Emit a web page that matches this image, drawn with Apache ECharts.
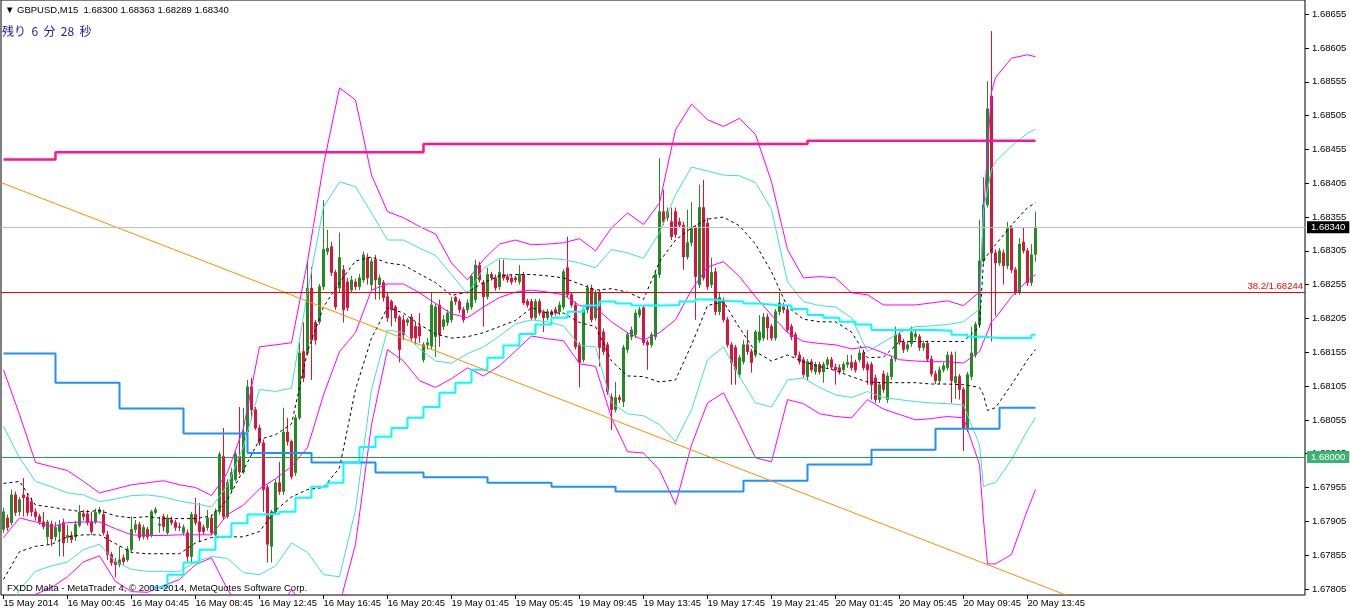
<!DOCTYPE html>
<html><head><meta charset="utf-8">
<script src="https://cdn.jsdelivr.net/npm/echarts@6/dist/echarts.min.js"></script>
<style>html,body{margin:0;padding:0;background:#fff}#c{width:1350px;height:613px}</style>
</head><body><div id="c"></div>
<script>
// ---- time axis (bar index -> label) ----
const tickBars = [0,16,32,48,64,80,96,112,128,144,160,176,192,208,224,240,256];
const tickLabels = ['15 May 2014','16 May 00:45','16 May 04:45','16 May 08:45','16 May 12:45','16 May 16:45','16 May 20:45','19 May 01:45','19 May 05:45','19 May 09:45','19 May 13:45','19 May 17:45','19 May 21:45','20 May 01:45','20 May 05:45','20 May 09:45','20 May 13:45'];
const priceTicks = [1.67805,1.67855,1.67905,1.67955,1.68005,1.68055,1.68105,1.68155,1.68205,1.68255,1.68305,1.68355,1.68405,1.68455,1.68505,1.68555,1.68605,1.68655];

// ---- candles (M15) ----
const opens = [1.67893,1.67910,1.67903,1.67944,1.67919,1.67944,1.67941,1.67934,1.67919,1.67912,
1.67904,1.67882,1.67901,1.67882,1.67890,1.67903,1.67881,1.67884,1.67882,1.67899,
1.67916,1.67916,1.67904,1.67904,1.67918,1.67915,1.67885,1.67856,1.67845,1.67841,
1.67851,1.67848,1.67863,1.67893,1.67900,1.67882,1.67893,1.67885,1.67918,1.67899,
1.67912,1.67888,1.67907,1.67903,1.67897,1.67888,1.67888,1.67853,1.67915,1.67904,
1.67896,1.67896,1.67910,1.67885,1.67919,1.68001,1.67912,1.67952,1.67967,1.68001,
1.67978,1.68037,1.68104,1.68070,1.68043,1.68021,1.67955,1.67868,1.67919,1.67962,
1.67949,1.68037,1.68023,1.67977,1.68058,1.68156,1.68154,1.68250,1.68199,1.68200,
1.68252,1.68304,1.68311,1.68273,1.68250,1.68277,1.68259,1.68247,1.68259,1.68252,
1.68262,1.68295,1.68255,1.68292,1.68255,1.68258,1.68237,1.68230,1.68222,1.68207,
1.68203,1.68199,1.68207,1.68193,1.68193,1.68144,1.68166,1.68164,1.68178,1.68225,
1.68193,1.68199,1.68203,1.68236,1.68230,1.68218,1.68218,1.68222,1.68233,1.68284,
1.68258,1.68237,1.68270,1.68265,1.68252,1.68270,1.68267,1.68265,1.68265,1.68259,
1.68270,1.68230,1.68230,1.68206,1.68230,1.68215,1.68206,1.68215,1.68218,1.68215,
1.68222,1.68280,1.68240,1.68225,1.68166,1.68144,1.68218,1.68250,1.68206,1.68243,
1.68185,1.68166,1.68089,1.68070,1.68088,1.68082,1.68159,1.68178,1.68181,1.68210,
1.68221,1.68170,1.68166,1.68178,1.68270,1.68363,1.68354,1.68348,1.68363,1.68348,
1.68343,1.68296,1.68317,1.68339,1.68255,1.68369,1.68346,1.68255,1.68274,1.68215,
1.68230,1.68203,1.68166,1.68162,1.68122,1.68141,1.68166,1.68156,1.68151,1.68173,
1.68176,1.68207,1.68193,1.68176,1.68215,1.68222,1.68218,1.68193,1.68181,1.68151,
1.68144,1.68119,1.68141,1.68126,1.68137,1.68126,1.68137,1.68144,1.68133,1.68132,
1.68129,1.68137,1.68140,1.68140,1.68144,1.68154,1.68137,1.68137,1.68117,1.68085,
1.68123,1.68085,1.68119,1.68145,1.68181,1.68170,1.68160,1.68168,1.68178,1.68178,
1.68162,1.68168,1.68145,1.68123,1.68113,1.68129,1.68132,1.68151,1.68110,1.68119,
1.68100,1.68042,1.68119,1.68151,1.68196,1.68290,1.68373,1.68534,1.68302,1.68287,
1.68302,1.68283,1.68338,1.68277,1.68244,1.68318,1.68305,1.68258,1.68300];
const closes = [1.67919,1.67896,1.67944,1.67918,1.67937,1.67940,1.67918,1.67919,1.67912,1.67904,
1.67897,1.67904,1.67879,1.67896,1.67899,1.67873,1.67884,1.67878,1.67900,1.67918,
1.67912,1.67903,1.67890,1.67918,1.67922,1.67888,1.67856,1.67844,1.67841,1.67848,
1.67845,1.67863,1.67893,1.67900,1.67881,1.67896,1.67882,1.67919,1.67922,1.67901,
1.67897,1.67910,1.67903,1.67896,1.67896,1.67896,1.67853,1.67915,1.67903,1.67890,
1.67890,1.67910,1.67888,1.67919,1.68004,1.67912,1.67962,1.67977,1.68004,1.67978,
1.68037,1.68104,1.68070,1.68043,1.68021,1.67952,1.67871,1.67919,1.67962,1.67949,
1.68037,1.68023,1.67971,1.68058,1.68154,1.68117,1.68250,1.68173,1.68173,1.68252,
1.68307,1.68309,1.68273,1.68222,1.68295,1.68218,1.68221,1.68262,1.68252,1.68265,
1.68299,1.68265,1.68289,1.68262,1.68265,1.68236,1.68206,1.68218,1.68206,1.68159,
1.68181,1.68203,1.68176,1.68176,1.68179,1.68166,1.68169,1.68225,1.68222,1.68181,
1.68203,1.68213,1.68230,1.68230,1.68218,1.68203,1.68228,1.68267,1.68284,1.68262,
1.68237,1.68270,1.68265,1.68250,1.68273,1.68265,1.68262,1.68259,1.68262,1.68270,
1.68228,1.68225,1.68206,1.68230,1.68213,1.68206,1.68215,1.68210,1.68213,1.68225,
1.68274,1.68240,1.68225,1.68163,1.68140,1.68218,1.68250,1.68203,1.68243,1.68162,
1.68156,1.68097,1.68070,1.68088,1.68085,1.68162,1.68181,1.68188,1.68213,1.68218,
1.68169,1.68166,1.68181,1.68270,1.68363,1.68348,1.68363,1.68326,1.68329,1.68343,
1.68296,1.68317,1.68339,1.68267,1.68369,1.68265,1.68252,1.68273,1.68215,1.68236,
1.68203,1.68166,1.68140,1.68129,1.68147,1.68166,1.68156,1.68140,1.68185,1.68185,
1.68207,1.68191,1.68176,1.68215,1.68228,1.68218,1.68188,1.68178,1.68151,1.68141,
1.68122,1.68141,1.68129,1.68137,1.68126,1.68137,1.68144,1.68133,1.68129,1.68126,
1.68137,1.68140,1.68132,1.68129,1.68154,1.68132,1.68129,1.68107,1.68085,1.68107,
1.68100,1.68120,1.68145,1.68181,1.68170,1.68159,1.68166,1.68184,1.68182,1.68162,
1.68168,1.68145,1.68123,1.68113,1.68129,1.68135,1.68151,1.68113,1.68119,1.68100,
1.68042,1.68122,1.68154,1.68196,1.68290,1.68373,1.68515,1.68302,1.68287,1.68305,
1.68283,1.68338,1.68277,1.68244,1.68315,1.68305,1.68258,1.68299,1.68340];
const lows = [1.67888,1.67891,1.67899,1.67913,1.67913,1.67912,1.67913,1.67912,1.67906,1.67900,
1.67893,1.67871,1.67868,1.67876,1.67853,1.67853,1.67873,1.67873,1.67876,1.67896,
1.67906,1.67899,1.67885,1.67901,1.67915,1.67884,1.67848,1.67839,1.67822,1.67837,
1.67841,1.67845,1.67860,1.67888,1.67876,1.67878,1.67878,1.67881,1.67915,1.67888,
1.67890,1.67885,1.67899,1.67891,1.67891,1.67884,1.67845,1.67844,1.67899,1.67875,
1.67885,1.67891,1.67884,1.67882,1.67915,1.67907,1.67909,1.67947,1.67964,1.67974,
1.67975,1.68033,1.68055,1.68040,1.68017,1.67919,1.67844,1.67844,1.67915,1.67944,
1.67944,1.68017,1.67967,1.67972,1.68055,1.68111,1.68150,1.68114,1.68166,1.68196,
1.68247,1.68299,1.68268,1.68218,1.68244,1.68199,1.68216,1.68243,1.68247,1.68247,
1.68258,1.68255,1.68247,1.68233,1.68233,1.68230,1.68200,1.68193,1.68200,1.68140,
1.68173,1.68194,1.68170,1.68166,1.68169,1.68140,1.68159,1.68159,1.68148,1.68163,
1.68188,1.68194,1.68199,1.68225,1.68213,1.68199,1.68213,1.68218,1.68228,1.68258,
1.68193,1.68233,1.68261,1.68246,1.68247,1.68261,1.68258,1.68255,1.68258,1.68255,
1.68225,1.68221,1.68202,1.68203,1.68209,1.68185,1.68202,1.68206,1.68209,1.68210,
1.68218,1.68236,1.68221,1.68159,1.68103,1.68140,1.68213,1.68199,1.68202,1.68134,
1.68151,1.68092,1.68040,1.68066,1.68080,1.68074,1.68154,1.68173,1.68176,1.68206,
1.68165,1.68129,1.68162,1.68173,1.68265,1.68343,1.68349,1.68321,1.68324,1.68339,
1.68277,1.68292,1.68312,1.68203,1.68250,1.68261,1.68247,1.68250,1.68210,1.68210,
1.68199,1.68162,1.68107,1.68107,1.68117,1.68137,1.68151,1.68125,1.68147,1.68169,
1.68172,1.68173,1.68172,1.68172,1.68210,1.68213,1.68184,1.68173,1.68147,1.68137,
1.68117,1.68114,1.68125,1.68122,1.68122,1.68110,1.68132,1.68129,1.68107,1.68122,
1.68125,1.68132,1.68128,1.68125,1.68140,1.68128,1.68107,1.68085,1.68080,1.68080,
1.68095,1.68080,1.68114,1.68141,1.68166,1.68154,1.68156,1.68163,1.68173,1.68157,
1.68157,1.68141,1.68119,1.68108,1.68108,1.68125,1.68128,1.68080,1.68086,1.68085,
1.68009,1.68037,1.68114,1.68147,1.68191,1.68286,1.68369,1.68171,1.68209,1.68283,
1.68255,1.68278,1.68272,1.68240,1.68240,1.68301,1.68253,1.68253,1.68289];
const highs = [1.67925,1.67915,1.67952,1.67949,1.67941,1.67969,1.67946,1.67940,1.67924,1.67916,
1.67919,1.67907,1.67906,1.67904,1.67907,1.67909,1.67900,1.67890,1.67906,1.67929,
1.67922,1.67922,1.67919,1.67924,1.67926,1.67922,1.67891,1.67860,1.67851,1.67868,
1.67856,1.67868,1.67912,1.67907,1.67904,1.67900,1.67897,1.67922,1.67926,1.67912,
1.67916,1.67915,1.67912,1.67907,1.67903,1.67900,1.67893,1.67919,1.67940,1.67932,
1.67900,1.67922,1.67915,1.67924,1.68008,1.68043,1.67967,1.67984,1.68008,1.68074,
1.68073,1.68114,1.68117,1.68074,1.68048,1.68026,1.67959,1.67922,1.67967,1.67993,
1.68073,1.68058,1.68026,1.68063,1.68169,1.68199,1.68289,1.68281,1.68203,1.68256,
1.68380,1.68336,1.68318,1.68277,1.68332,1.68284,1.68265,1.68268,1.68264,1.68271,
1.68304,1.68301,1.68295,1.68299,1.68270,1.68262,1.68243,1.68233,1.68225,1.68210,
1.68210,1.68206,1.68212,1.68200,1.68213,1.68170,1.68176,1.68243,1.68228,1.68233,
1.68210,1.68218,1.68237,1.68238,1.68234,1.68222,1.68233,1.68271,1.68292,1.68289,
1.68262,1.68280,1.68274,1.68270,1.68292,1.68292,1.68271,1.68270,1.68268,1.68284,
1.68274,1.68234,1.68234,1.68234,1.68234,1.68218,1.68219,1.68218,1.68222,1.68230,
1.68278,1.68326,1.68244,1.68230,1.68170,1.68224,1.68255,1.68255,1.68247,1.68247,
1.68190,1.68170,1.68094,1.68111,1.68092,1.68166,1.68185,1.68193,1.68218,1.68222,
1.68225,1.68173,1.68185,1.68274,1.68442,1.68395,1.68369,1.68369,1.68369,1.68354,
1.68348,1.68366,1.68377,1.68343,1.68403,1.68410,1.68354,1.68295,1.68280,1.68244,
1.68236,1.68207,1.68170,1.68166,1.68151,1.68173,1.68188,1.68160,1.68188,1.68210,
1.68213,1.68212,1.68197,1.68219,1.68244,1.68228,1.68224,1.68197,1.68185,1.68156,
1.68148,1.68145,1.68145,1.68141,1.68141,1.68141,1.68148,1.68148,1.68138,1.68137,
1.68141,1.68151,1.68151,1.68144,1.68159,1.68159,1.68141,1.68141,1.68122,1.68111,
1.68128,1.68125,1.68150,1.68193,1.68185,1.68175,1.68170,1.68193,1.68187,1.68182,
1.68172,1.68172,1.68150,1.68128,1.68134,1.68140,1.68156,1.68156,1.68156,1.68123,
1.68104,1.68126,1.68193,1.68200,1.68351,1.68414,1.68556,1.68630,1.68307,1.68309,
1.68307,1.68348,1.68342,1.68281,1.68324,1.68340,1.68309,1.68315,1.68363];

// ---- Bollinger-style bands, read every 4 bars ----
const bandBars = [0,4,8,12,16,20,24,28,32,36,40,44,48,52,56,60,64,68,72,76,80,84,88,92,96,100,104,108,112,116,120,124,128,132,136,140,144,148,152,156,160,164,168,172,176,180,184,188,192,196,200,204,208,212,216,220,224,228,232,236,240,244,245,246,247,248,252,256,258];
const bandUpper3 = [1.68129,1.68063,1.67992,1.67986,1.67980,1.67964,1.67947,1.67953,1.67959,1.67962,1.67965,1.67959,1.67955,1.67943,1.67977,1.68043,1.68163,1.68166,1.68169,1.68289,1.68432,1.68546,1.68528,1.68417,1.68363,1.68354,1.68341,1.68330,1.68287,1.68262,1.68292,1.68315,1.68321,1.68314,1.68315,1.68317,1.68323,1.68305,1.68339,1.68361,1.68344,1.68376,1.68484,1.68522,1.68499,1.68489,1.68501,1.68477,1.68407,1.68307,1.68265,1.68267,1.68265,1.68243,1.68240,1.68225,1.68225,1.68225,1.68228,1.68231,1.68224,1.68244,1.68358,1.68454,1.68540,1.68561,1.68590,1.68595,1.68592];
const bandUpper2 = [1.68045,1.67999,1.67964,1.67956,1.67947,1.67944,1.67934,1.67938,1.67943,1.67944,1.67941,1.67935,1.67931,1.67926,1.67958,1.68016,1.68100,1.68097,1.68102,1.68244,1.68370,1.68407,1.68400,1.68361,1.68321,1.68321,1.68309,1.68298,1.68270,1.68241,1.68279,1.68294,1.68292,1.68292,1.68294,1.68292,1.68287,1.68280,1.68307,1.68302,1.68294,1.68332,1.68388,1.68429,1.68423,1.68417,1.68416,1.68406,1.68366,1.68259,1.68230,1.68224,1.68222,1.68206,1.68156,1.68170,1.68184,1.68193,1.68194,1.68196,1.68200,1.68219,1.68366,1.68395,1.68425,1.68437,1.68460,1.68479,1.68485];
const bandUpper1 = [1.67961,1.67964,1.67929,1.67926,1.67922,1.67919,1.67921,1.67913,1.67910,1.67912,1.67909,1.67909,1.67909,1.67913,1.67937,1.67981,1.68026,1.68033,1.68049,1.68156,1.68222,1.68258,1.68290,1.68296,1.68287,1.68284,1.68271,1.68258,1.68239,1.68244,1.68258,1.68268,1.68270,1.68270,1.68268,1.68265,1.68256,1.68247,1.68249,1.68244,1.68233,1.68289,1.68321,1.68339,1.68352,1.68355,1.68342,1.68315,1.68274,1.68222,1.68204,1.68200,1.68200,1.68185,1.68147,1.68148,1.68171,1.68171,1.68171,1.68171,1.68171,1.68193,1.68290,1.68299,1.68307,1.68314,1.68343,1.68369,1.68376];
const bandMid = [1.67881,1.67910,1.67904,1.67897,1.67903,1.67904,1.67904,1.67894,1.67885,1.67884,1.67884,1.67885,1.67885,1.67885,1.67915,1.67929,1.67953,1.67968,1.67986,1.68014,1.68092,1.68156,1.68184,1.68247,1.68256,1.68256,1.68243,1.68227,1.68212,1.68206,1.68222,1.68236,1.68244,1.68247,1.68244,1.68240,1.68224,1.68221,1.68200,1.68184,1.68173,1.68184,1.68203,1.68247,1.68281,1.68289,1.68267,1.68237,1.68210,1.68184,1.68171,1.68168,1.68166,1.68160,1.68163,1.68154,1.68144,1.68142,1.68141,1.68141,1.68139,1.68156,1.68171,1.68185,1.68200,1.68206,1.68237,1.68261,1.68270];
const bandLower1 = [1.67819,1.67860,1.67868,1.67871,1.67882,1.67885,1.67885,1.67872,1.67859,1.67857,1.67857,1.67857,1.67873,1.67881,1.67882,1.67882,1.67890,1.67921,1.67941,1.67952,1.67955,1.67984,1.68100,1.68176,1.68221,1.68213,1.68196,1.68182,1.68176,1.68178,1.68184,1.68193,1.68202,1.68221,1.68213,1.68213,1.68199,1.68193,1.68142,1.68120,1.68119,1.68111,1.68114,1.68166,1.68224,1.68230,1.68191,1.68156,1.68142,1.68151,1.68141,1.68134,1.68128,1.68119,1.68111,1.68110,1.68110,1.68110,1.68108,1.68108,1.68107,1.68103,1.68092,1.68069,1.68071,1.68073,1.68107,1.68144,1.68159];
const bandLower2 = [1.67752,1.67804,1.67831,1.67839,1.67845,1.67863,1.67871,1.67845,1.67834,1.67831,1.67831,1.67831,1.67845,1.67853,1.67850,1.67829,1.67826,1.67839,1.67873,1.67859,1.67826,1.67823,1.67922,1.68100,1.68188,1.68184,1.68160,1.68142,1.68139,1.68153,1.68163,1.68179,1.68197,1.68203,1.68200,1.68194,1.68165,1.68163,1.68080,1.68064,1.68061,1.68048,1.68023,1.68070,1.68144,1.68163,1.68119,1.68080,1.68074,1.68114,1.68117,1.68103,1.68092,1.68088,1.68097,1.68088,1.68085,1.68082,1.68080,1.68079,1.68077,1.68018,1.67956,1.67959,1.67961,1.67962,1.67996,1.68040,1.68058];
const bandLower3 = [1.67671,1.67767,1.67797,1.67807,1.67823,1.67845,1.67854,1.67816,1.67801,1.67800,1.67810,1.67819,1.67841,1.67851,1.67804,1.67771,1.67760,1.67767,1.67804,1.67774,1.67767,1.67782,1.67871,1.68048,1.68159,1.68142,1.68113,1.68103,1.68116,1.68132,1.68120,1.68135,1.68157,1.68179,1.68175,1.68172,1.68138,1.68134,1.68058,1.68008,1.68006,1.67981,1.67930,1.68018,1.68080,1.68095,1.68048,1.67999,1.67993,1.68085,1.68079,1.68064,1.68060,1.68058,1.68085,1.68071,1.68063,1.68055,1.68057,1.68060,1.68058,1.67989,1.67907,1.67842,1.67842,1.67842,1.67856,1.67922,1.67952];

// ---- step indicators (value changes at bar index) ----
const blueBars = [0,13,29,45,61,77,93,105,121,137,153,185,201,217,233,249];
const blueValues = [1.68153,1.68110,1.68072,1.68035,1.68006,1.67992,1.67977,1.67970,1.67962,1.67956,1.67949,1.67965,1.67989,1.68011,1.68042,1.68073];
const pinkBars = [0,13,105,201];
const pinkValues = [1.68440,1.68451,1.68463,1.68468];
const aquaBars = [37,41,45,49,53,57,61,65,69,73,77,81,85,89,93,97,101,105,109,113,117,121,125,129,133,137,141,145,149,153,157,161,165,169,173,177,181,185,189,193,197,201,205,209,213,217,221,225,229,233,237,241,245,249,253,257];
const aquaValues = [1.67807,1.67826,1.67844,1.67863,1.67882,1.67902,1.67915,1.67916,1.67919,1.67940,1.67956,1.67962,1.67992,1.68015,1.68030,1.68043,1.68058,1.68074,1.68095,1.68110,1.68129,1.68147,1.68165,1.68182,1.68196,1.68206,1.68215,1.68224,1.68230,1.68227,1.68224,1.68224,1.68225,1.68230,1.68233,1.68231,1.68230,1.68227,1.68225,1.68224,1.68219,1.68210,1.68206,1.68200,1.68196,1.68188,1.68188,1.68188,1.68188,1.68187,1.68181,1.68178,1.68176,1.68176,1.68176,1.68181];

// ---- trendline anchors and horizontal levels ----
const trendBars = [-0.625, 280];
const trendValues = [1.68406, 1.67763];
const fiboLevel = 1.68244, fiboText = '38.2/1.68244';
const bidPrice = 1.68340;
const roundLevel = 1.68000;

const headerText = '\u25BC GBPUSD,M15  1.68300 1.68363 1.68289 1.68340';
const timerText = '残り  6  分  28  秒';
const copyrightText = 'FXDD Malta - MetaTrader 4, \u00A9 2001-2014, MetaQuotes Software Corp.';

const F = '"Liberation Sans", Arial, sans-serif';
const lastBar = opens.length - 1;
const candleData = opens.map((o, i) => [i, o, closes[i], lows[i], highs[i]]);
const pair = (xs, ys) => xs.map((x, i) => [x, ys[i]]);
const stepData = (xs, ys) => { const d = pair(xs, ys); d.push([lastBar, ys[ys.length - 1]]); return d; };

const bandDefs = [
  [bandUpper3, '#FF00FF', 'solid'], [bandUpper2, '#40E0D0', 'solid'], [bandUpper1, '#000000', [3, 3]],
  [bandMid, '#FF00FF', 'solid'], [bandLower1, '#000000', [3, 3]], [bandLower2, '#40E0D0', 'solid'], [bandLower3, '#FF00FF', 'solid']
];

const series = [{
  type: 'candlestick', data: candleData, barWidth: 2, silent: true,
  itemStyle: { color: '#228B22', color0: '#DC143C', borderColor: '#228B22', borderColor0: '#DC143C', borderWidth: 1 }
}];
bandDefs.forEach(([vals, col, ty]) => series.push({
  type: 'line', data: pair(bandBars, vals), showSymbol: false, symbol: 'none', silent: true,
  lineStyle: { color: col, width: 1, type: ty }
}));
series.push({ type: 'line', data: stepData(blueBars, blueValues), step: 'end', symbol: 'none', silent: true, lineStyle: { color: '#1E90FF', width: 2 } });
series.push({ type: 'line', data: stepData(pinkBars, pinkValues), step: 'end', symbol: 'none', silent: true, lineStyle: { color: '#FF1493', width: 2.5 } });
series.push({ type: 'line', data: stepData(aquaBars, aquaValues), step: 'end', symbol: 'none', silent: true, lineStyle: { color: '#00FFFF', width: 2 } });
series.push({
  type: 'line', data: pair(trendBars, trendValues), symbol: 'none', silent: true, lineStyle: { color: '#FF8C00', width: 1 },
  markLine: {
    silent: true, symbol: ['none', 'none'], animation: false, precision: 5,
    data: [
      { yAxis: fiboLevel, lineStyle: { color: '#FF0000', width: 1, type: 'solid' },
        label: { show: true, position: 'insideEndTop', formatter: fiboText, color: '#FF0000', fontSize: 9.5, fontFamily: F, distance: [2, 1] } },
      { yAxis: bidPrice, lineStyle: { color: '#C0C0C0', width: 1, type: 'solid' },
        label: { show: true, position: 'end', formatter: bidPrice.toFixed(5), color: '#FFFFFF', backgroundColor: '#000000', padding: [1, 4, 1, 4], fontSize: 9.5, fontFamily: F, distance: 2 } },
      { yAxis: roundLevel, lineStyle: { color: '#1FA050', width: 1.2, type: 'solid' },
        label: { show: true, position: 'end', formatter: roundLevel.toFixed(5), color: '#FFFFFF', backgroundColor: '#3CB371', padding: [1, 4, 1, 4], fontSize: 9.5, fontFamily: F, distance: 2 } }
    ]
  }
});

const chart = echarts.init(document.getElementById('c'), null, { renderer: 'canvas', width: 1350, height: 613 });
chart.setOption({
  animation: false,
  backgroundColor: '#FFFFFF',
  title: [
    { text: headerText, left: 5, top: 5, padding: 0, textStyle: { fontSize: 9.5, fontWeight: 'normal', color: '#000', fontFamily: F } },
    { text: timerText, left: 2, top: 25, padding: 0, textStyle: { fontSize: 12, fontWeight: 'normal', color: '#1a1aa8', fontFamily: '"Noto Sans CJK JP", sans-serif' } },
    { text: copyrightText, left: 7, top: 583, padding: 0, textStyle: { fontSize: 9.5, fontWeight: 'normal', color: '#000', fontFamily: F } }
  ],
  grid: { left: 1, right: 45, top: 0, bottom: 18, show: true, borderColor: '#000', borderWidth: 1, backgroundColor: 'transparent' },
  xAxis: {
    type: 'value', min: -0.625, max: 325.375, axisLine: { show: false, onZero: false }, splitLine: { show: false },
    axisTick: { show: true, customValues: tickBars, length: 4, lineStyle: { color: '#000' } },
    axisLabel: { customValues: tickBars, formatter: v => tickLabels[tickBars.indexOf(v)] || '', align: 'left', margin: 3, fontSize: 9.5, fontFamily: F, color: '#000' }
  },
  yAxis: {
    type: 'value', position: 'right', min: 1.67796, max: 1.68676, axisLine: { show: false, onZero: false }, splitLine: { show: false },
    axisTick: { show: true, customValues: priceTicks, length: 4, lineStyle: { color: '#000' } },
    axisLabel: { customValues: priceTicks, formatter: v => v.toFixed(5), margin: 7, fontSize: 9.5, fontFamily: F, color: '#000' }
  },
  series: series
});
</script>
</body></html>
